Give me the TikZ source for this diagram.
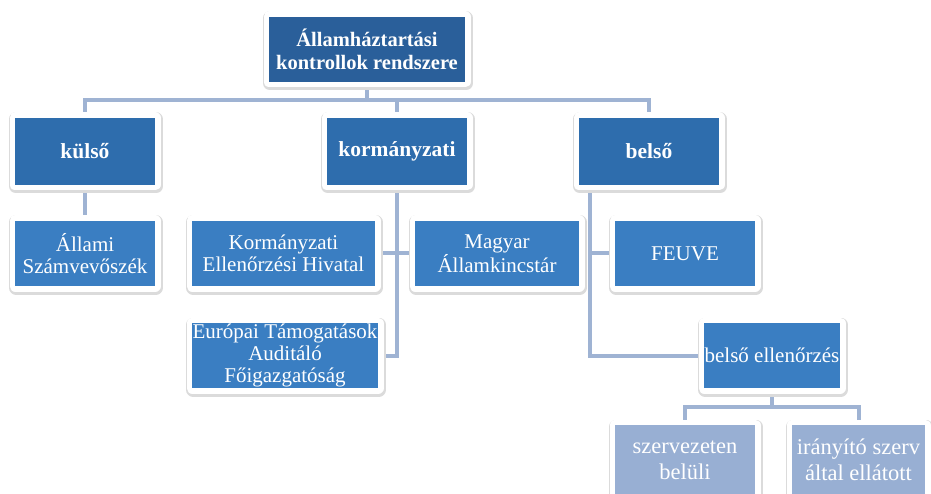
\documentclass[tikz,border=0pt]{standalone}
\usepackage{fontspec}
\setmainfont{Liberation Serif}
\usetikzlibrary{backgrounds}

\definecolor{topblue}{HTML}{2A5F9A}
\definecolor{midblue}{HTML}{2E6DAD}
\definecolor{lowblue}{HTML}{3A7EC2}
\definecolor{paleblue}{HTML}{98AFD3}
\definecolor{linkblue}{HTML}{9FB3D3}

\tikzset{
  box/.style={text=white, align=center, inner sep=0pt, line join=round,
    preaction={draw=black!14, line width=14pt, transform canvas={xshift=1pt,yshift=-1.5pt}},
    preaction={draw=white, line width=11pt},
    font=\fontsize{21}{21.8}\selectfont},
  headbox/.style={box, fill=topblue, font=\bfseries\fontsize{20.5}{23}\selectfont},
  groupbox/.style={box, fill=midblue, font=\bfseries\fontsize{21.5}{23}\selectfont,
    minimum width=140pt, minimum height=67pt},
  unitbox/.style={box, fill=lowblue, minimum height=65pt},
  leafbox/.style={box, fill=paleblue, minimum width=140pt, minimum height=70pt,
    font=\fontsize{22.5}{26}\selectfont},
  conn/.style={draw=linkblue, line width=4pt}
}

\begin{document}
\begin{tikzpicture}[x=1pt,y=-1pt]
        \useasboundingbox (0,0) rectangle (931,494);
        \clip (0,0) rectangle (931,494);

        % Top of the tree
        \node[headbox, minimum width=196pt, minimum height=65pt] (top) at (367,49.5)
            {Államháztartási\\kontrollok rendszere};

        % Three branches
        \node[groupbox] (kulso) at (85,151.5) {külső};
        \node[groupbox] (korm) at (397,151.5) {kormányzati};
        \node[groupbox] (belso) at (649,151.5) {belső};

        % Second row
        \node[unitbox, minimum width=140pt] (asz) at (85,253.5) {Állami\\Számvevőszék};
        \node[unitbox, minimum width=183pt] (keh) at (283.5,253.5) {Kormányzati\\Ellenőrzési Hivatal};
        \node[unitbox, minimum width=164pt] (mak) at (497,253.5) {Magyar\\Államkincstár};
        \node[unitbox, minimum width=140pt] (feuve) at (685,253.5) {FEUVE};

        % Third row
        \node[unitbox, minimum width=186pt] (eutaf) at (285,355.5)
            {Európai Támogatások\\Auditáló\\Főigazgatóság};
        \node[unitbox, minimum width=136pt] (bellen) at (772,355.5) {belső ellenőrzés};

        % Bottom row (cut off by the frame)
        \node[leafbox] (szerv) at (685,460) {szervezeten\\belüli};
        \node[leafbox, minimum width=133pt] (iranyito) at (858.5,460) {irányító szerv\\által ellátott};

        % Draw connectors
        \begin{scope}[on background layer]
            \draw[conn] (top.south) -- ++(0,18) coordinate (bus);
            \draw[conn] (kulso.north) |- (bus) -| (belso.north);
            \draw[conn] (korm.north) -- (korm.north |- bus);
            \draw[conn] (kulso.south) -- (asz.north);
            \draw[conn] (korm.south) |- (eutaf.east);
            \draw[conn] (keh.east) -- (mak.west);
            \coordinate (bs) at ([xshift=11pt]belso.south west);
            \draw[conn] (bs) |- (bellen.west);
            \draw[conn] (bs |- feuve.west) -- (feuve.west);
            \draw[conn] (bellen.south) -- ++(0,19) coordinate (bus2);
            \draw[conn] (szerv.north) |- (bus2) -| (iranyito.north);
        \end{scope}
    \end{tikzpicture}
\end{document}
